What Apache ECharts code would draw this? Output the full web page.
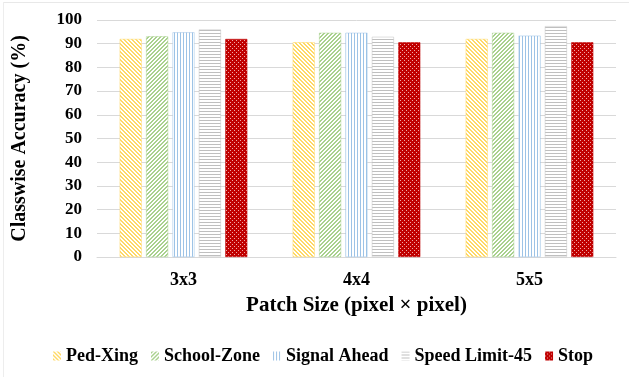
<!DOCTYPE html>
<html><head><meta charset="utf-8">
<script src="https://cdn.jsdelivr.net/npm/echarts@6/dist/echarts.min.js"></script>
<style>html,body{margin:0;padding:0;background:#fff}#c{width:629px;height:377px}</style>
</head><body><div id="c"></div>
<script>
const categories = ['3x3', '4x4', '5x5'];
const seriesNames = ['Ped-Xing', 'School-Zone', 'Signal Ahead', 'Speed Limit-45', 'Stop'];
const pedXing = [92.0, 90.6, 92.0];
const schoolZone = [93.1, 94.6, 94.6];
const signalAhead = [94.8, 94.6, 93.4];
const speedLimit45 = [96.0, 92.9, 97.4];
const stop = [92.0, 90.6, 90.6];
const yTicks = [0, 10, 20, 30, 40, 50, 60, 70, 80, 90, 100];

function makePattern(size, fg, bg, test) {
  const c = document.createElement('canvas');
  c.width = size; c.height = size;
  const ctx = c.getContext('2d');
  ctx.fillStyle = bg; ctx.fillRect(0, 0, size, size);
  ctx.fillStyle = fg;
  for (let y = 0; y < size; y++) for (let x = 0; x < size; x++) if (test(x, y)) ctx.fillRect(x, y, 1, 1);
  return c;
}
const pats = [
  makePattern(4, '#FFD966', '#FFFFFF', (x, y) => ((x - y + 8) % 4) < 2),
  makePattern(4, '#A9D18E', '#FFFFFF', (x, y) => ((x + y) % 4) < 2),
  makePattern(3, '#9DC3E6', '#FFFFFF', (x, y) => x % 3 === 0),
  makePattern(3, '#BFBFBF', '#FFFFFF', (x, y) => y % 3 === 0),
  makePattern(4, '#F0A8A8', '#C00000', (x, y) => (x === 0 && y === 0) || (x === 2 && y === 2))
];
const dataArr = [pedXing, schoolZone, signalAhead, speedLimit45, stop];
const edge = ['#FFD966', '#A9D18E', '#9DC3E6', '#BFBFBF', '#C00000'];

const chart = echarts.init(document.getElementById('c'), null, {renderer: 'canvas'});
const font = 'Liberation Serif';
chart.setOption({
  animation: false,
  backgroundColor: '#fff',
  grid: {left: 97, right: 13, top: 20, bottom: 120},
  graphic: [
    {type: 'line', shape: {x1: 3, y1: 2.5, x2: 629, y2: 2.5}, style: {stroke: '#E8E8E8', lineWidth: 1}, silent: true},
    {type: 'line', shape: {x1: 3.5, y1: 2, x2: 3.5, y2: 377}, style: {stroke: '#EDEDED', lineWidth: 1}, silent: true}
  ],
  legend: {
    bottom: 7, left: 48, itemWidth: 8, itemHeight: 9, itemGap: 13,
    data: seriesNames, icon: 'rect',
    itemStyle: {borderWidth: 0},
    textStyle: {fontFamily: font, fontWeight: 'bold', fontSize: 18, color: '#000'}
  },
  xAxis: {
    type: 'category', data: categories,
    axisLine: {lineStyle: {color: '#D9D9D9', width: 1}},
    axisTick: {show: false},
    axisLabel: {fontFamily: font, fontWeight: 'bold', fontSize: 18, color: '#000', margin: 14},
    name: 'Patch Size (pixel × pixel)', nameLocation: 'middle', nameGap: 38,
    nameTextStyle: {fontFamily: font, fontWeight: 'bold', fontSize: 21, color: '#000'}
  },
  yAxis: {
    type: 'value', min: 0, max: 100, interval: 10,
    axisLine: {show: false}, axisTick: {show: false},
    splitLine: {lineStyle: {color: '#D9D9D9', width: 1}},
    axisLabel: {fontFamily: font, fontWeight: 'bold', fontSize: 17, color: '#000', margin: 15,
      formatter: v => yTicks.includes(v) ? String(v) : ''},
    name: 'Classwise Accuracy (%)', nameLocation: 'middle', nameGap: 67, nameRotate: 90,
    nameTextStyle: {fontFamily: font, fontWeight: 'bold', fontSize: 20, color: '#000'}
  },
  series: seriesNames.map((n, i) => ({
    name: n, type: 'bar', data: dataArr[i],
    barWidth: 22, barGap: '20%',
    itemStyle: {color: {image: pats[i], repeat: 'repeat'}, borderColor: edge[i], borderWidth: 0.5}
  }))
});
</script></body></html>
